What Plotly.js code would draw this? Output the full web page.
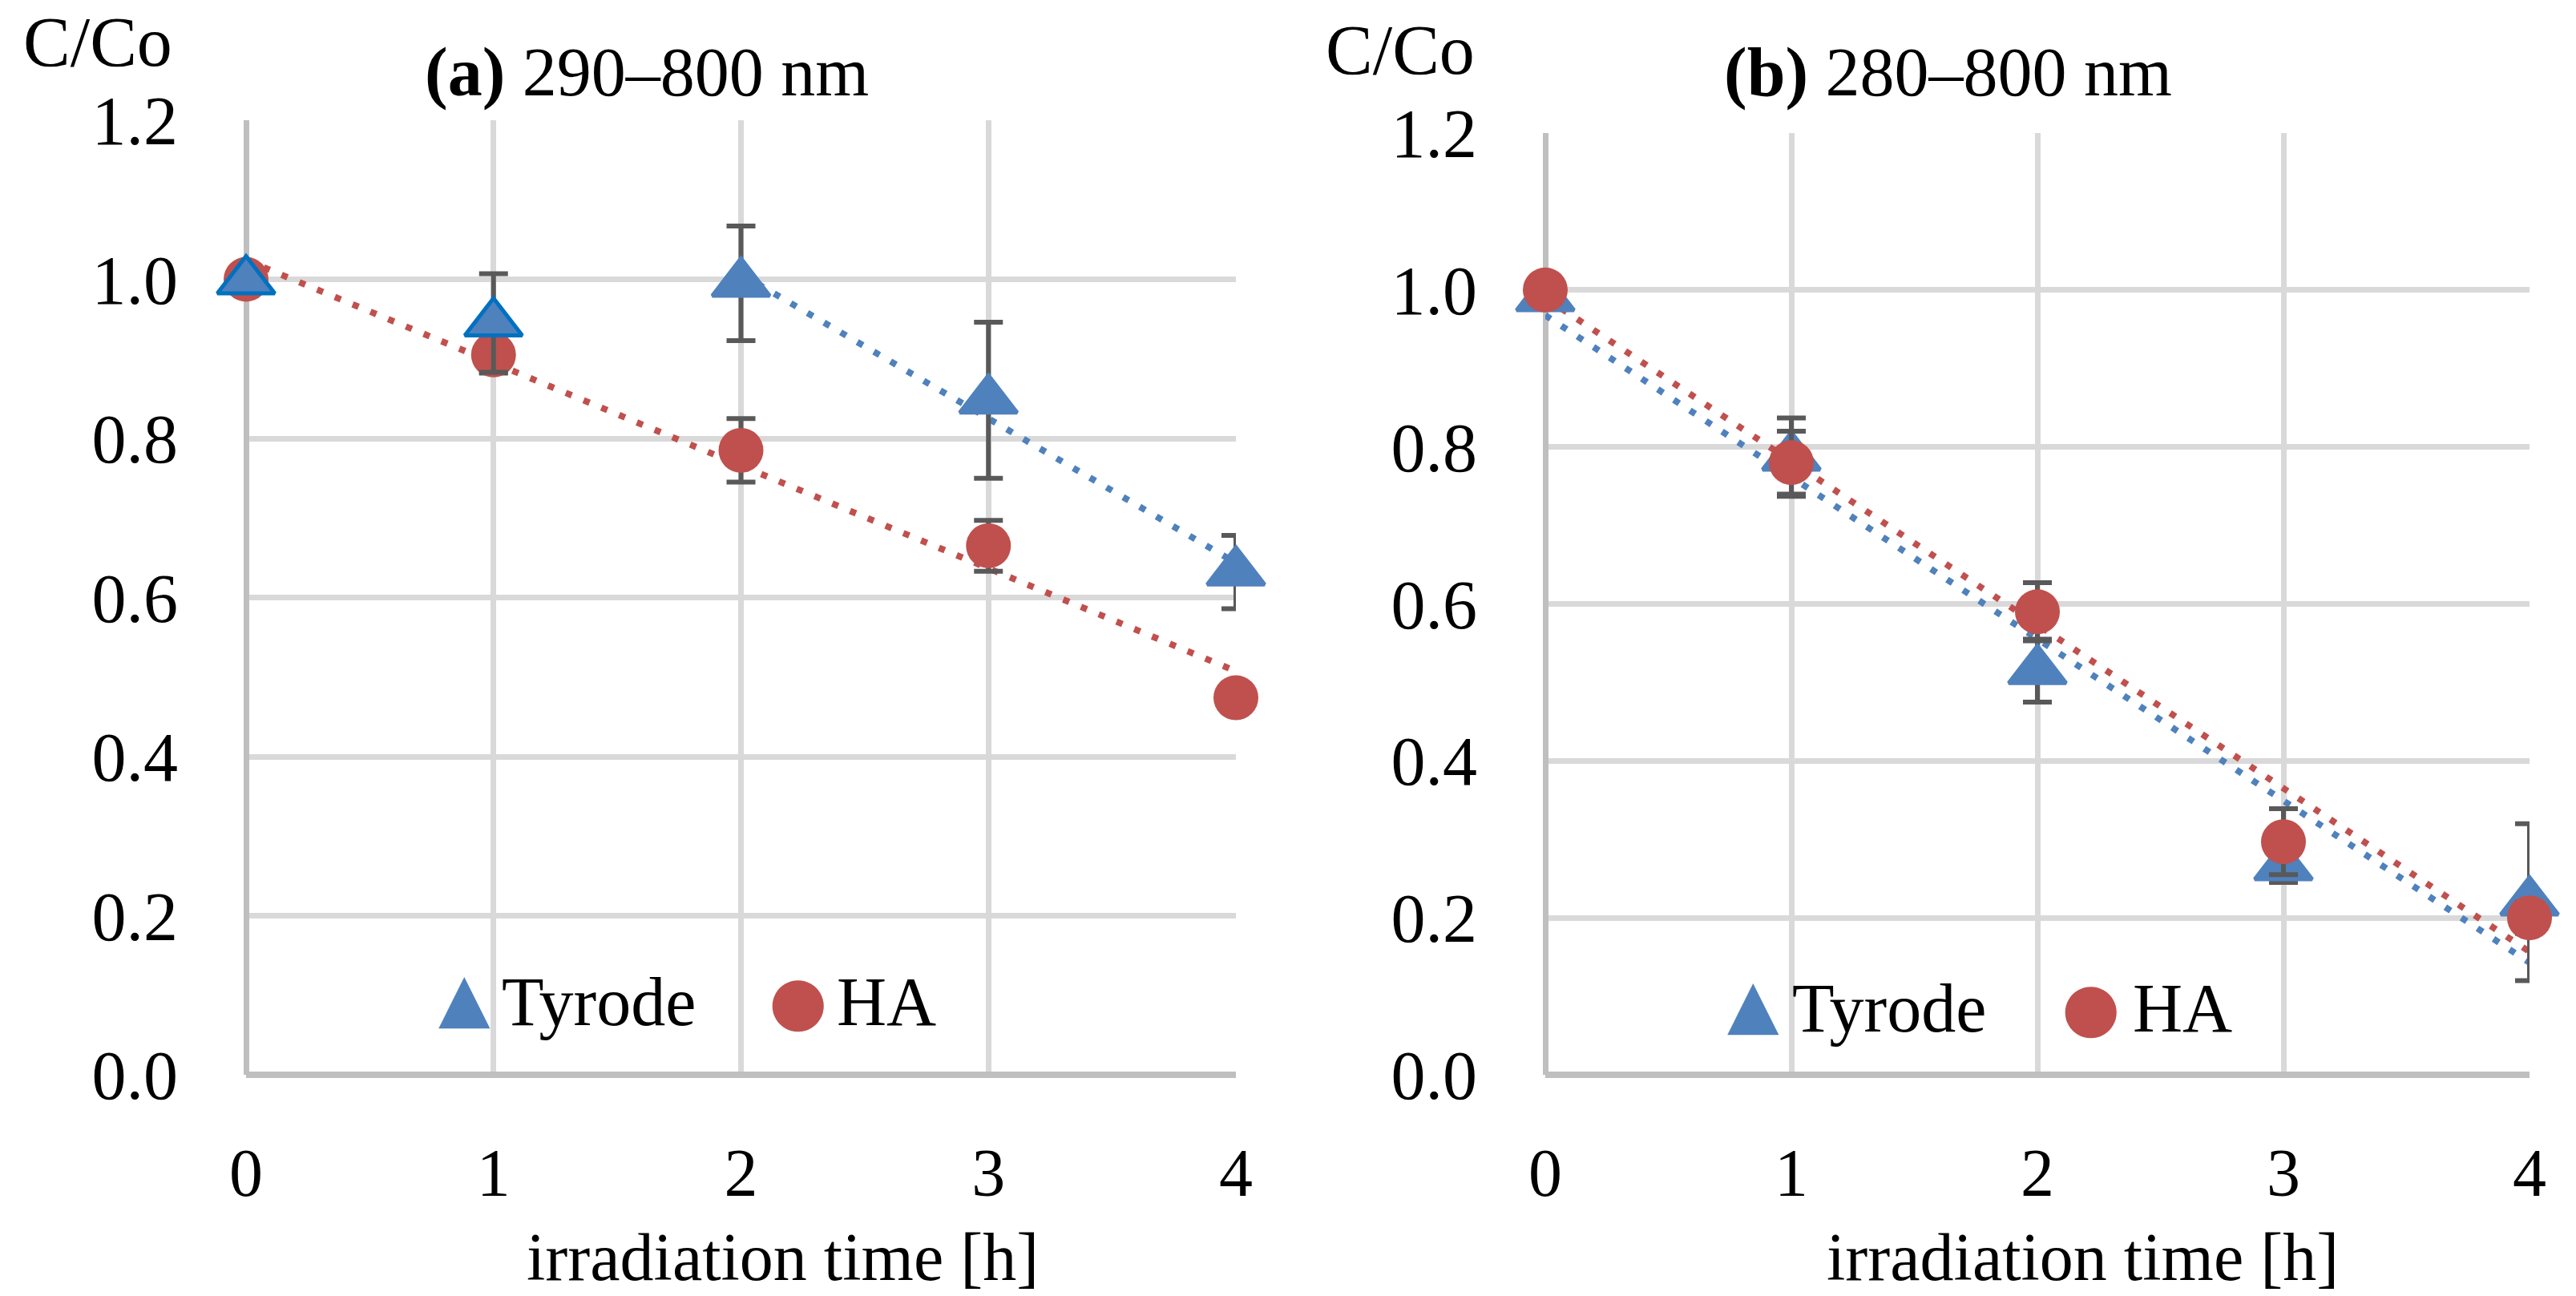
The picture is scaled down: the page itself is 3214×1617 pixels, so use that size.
<!DOCTYPE html>
<html>
<head>
<meta charset="utf-8">
<script src="https://cdn.plot.ly/plotly-3.0.1.min.js"></script>
<style>
  html, body { margin: 0; padding: 0; background: #ffffff; }
  #chart { width: 3214px; height: 1617px; }
</style>
</head>
<body>
<div id="chart"></div>
<script>
// ---------- data ----------
const hours = [0, 1, 2, 3, 4];
const xTickText = ['0', '1', '2', '3', '4'];
const yTickVals = [0, 0.2, 0.4, 0.6, 0.8, 1.0, 1.2];
const yTickText = ['0.0', '0.2', '0.4', '0.6', '0.8', '1.0', '1.2'];

const seriesNames = ['Tyrode', 'HA'];
const panelTitles = ['<b>(a)</b> 290–800 nm', '<b>(b)</b> 280–800 nm'];
const yLabel = 'C/Co';
const xLabel = 'irradiation time [h]';

// panel (a) 290–800 nm
const tyrodeA = [0.998, 0.945, 0.995, 0.848, 0.632];
const tyrodeAErr = [0, 0.062, 0.072, 0.098, 0.046];
const haA = [1.0, 0.905, 0.785, 0.665, 0.474];
const haAErr = [0, 0.023, 0.04, 0.032, 0.01];
const tyrodeATrendStart = 2;   // trendline fitted over hours 2–4 only
const haATrendStart = 0;

// panel (b) 280–800 nm
const tyrodeB = [0.99, 0.787, 0.515, 0.265, 0.22];
const tyrodeBErr = [0, 0.05, 0.04, 0.02, 0.1];
const haB = [1.0, 0.78, 0.59, 0.297, 0.2];
const haBErr = [0, 0.04, 0.037, 0.042, 0.02];
const tyrodeBTrendStart = 0;
const haBTrendStart = 0;

// ---------- styles ----------
const BLUE = '#4f81bd';
const BLUE_EDGE = '#0070c0';
const RED = '#c0504d';
const ERR = '#595959';
const GRID = '#d9d9d9';
const AXIS = '#bfbfbf';
const FONT = 'Liberation Serif, Times New Roman, serif';
const W = 3214, H = 1617;
const px = v => v / W;
const py = v => 1 - v / H;

// least-squares linear trendline (as the spreadsheet trendline)
function trend(xs, ys, start) {
  const X = xs.filter(x => x >= start);
  const Y = ys.filter((_, i) => xs[i] >= start);
  const n = X.length;
  const mx = X.reduce((a, b) => a + b, 0) / n;
  const my = Y.reduce((a, b) => a + b, 0) / n;
  let sxy = 0, sxx = 0;
  for (let i = 0; i < n; i++) { sxy += (X[i] - mx) * (Y[i] - my); sxx += (X[i] - mx) ** 2; }
  const b = sxy / sxx, a = my - b * mx;
  const ends = [X[0], X[n - 1]];
  return { x: ends, y: ends.map(x => a + b * x) };
}

function trendTrace(t, color, xa, ya) {
  return {
    type: 'scatter', mode: 'lines', x: t.x, y: t.y, xaxis: xa, yaxis: ya,
    line: { color: color, width: 8, dash: '8px,16px' },
    showlegend: false, hoverinfo: 'skip', cliponaxis: false
  };
}

function tyrodeTrace(y, err, xa, ya, edge) {
  return {
    type: 'scatter', mode: 'markers', name: seriesNames[0], x: hours, y: y,
    xaxis: xa, yaxis: ya, cliponaxis: false, showlegend: false,
    marker: { symbol: 'triangle-up', size: 62, color: BLUE,
              line: { color: edge, width: 5 } },
    error_y: { type: 'data', array: err, visible: true, color: ERR, thickness: 6, width: 18 }
  };
}

function haTrace(y, err, xa, ya) {
  return {
    type: 'scatter', mode: 'markers', name: seriesNames[1], x: hours, y: y,
    xaxis: xa, yaxis: ya, cliponaxis: false, showlegend: false,
    marker: { symbol: 'circle', size: 56, color: RED, line: { width: 0 } },
    error_y: { type: 'data', array: err, visible: true, color: ERR, thickness: 6, width: 18 }
  };
}

const edgesA = [BLUE_EDGE, BLUE_EDGE, BLUE, BLUE, BLUE];
const edgesB = [BLUE, BLUE, BLUE, BLUE, BLUE];

const data = [
  // panel (a): circles under triangles
  trendTrace(trend(hours, haA, haATrendStart), RED, 'x', 'y'),
  trendTrace(trend(hours, tyrodeA, tyrodeATrendStart), BLUE, 'x', 'y'),
  haTrace(haA, haAErr, 'x', 'y'),
  tyrodeTrace(tyrodeA, tyrodeAErr, 'x', 'y', edgesA),
  // panel (b): triangles under circles
  trendTrace(trend(hours, tyrodeB, tyrodeBTrendStart), BLUE, 'x2', 'y2'),
  trendTrace(trend(hours, haB, haBTrendStart), RED, 'x2', 'y2'),
  tyrodeTrace(tyrodeB, tyrodeBErr, 'x2', 'y2', edgesB),
  haTrace(haB, haBErr, 'x2', 'y2')
];

function xAxis(domain) {
  return {
    domain: domain, range: [0, 4], tickvals: hours, ticktext: xTickText,
    showgrid: true, gridcolor: GRID, gridwidth: 7,
    zeroline: true, zerolinecolor: AXIS, zerolinewidth: 7,
    showline: false, ticks: '', ticklabelstandoff: 66,
    tickfont: { family: FONT, size: 84, color: '#000000' }, fixedrange: true
  };
}
function yAxis(domain, anchor) {
  return {
    domain: domain, range: [0, 1.2], tickvals: yTickVals, ticktext: yTickText,
    anchor: anchor,
    showgrid: true, gridcolor: GRID, gridwidth: 7,
    zeroline: true, zerolinecolor: AXIS, zerolinewidth: 8,
    showline: false, ticks: '', ticklabelstandoff: 84,
    tickfont: { family: FONT, size: 86, color: '#000000' }, fixedrange: true
  };
}

const txt = (text, x, y, xanchor, size, extra) => Object.assign({
  text: text, xref: 'paper', yref: 'paper', x: px(x), y: py(y),
  xanchor: xanchor, yanchor: 'middle', showarrow: false,
  font: { family: FONT, size: size, color: '#000000' }
}, extra || {});

const glyph = (g, color, x, y, size) => ({
  text: g, xref: 'paper', yref: 'paper', x: px(x), y: py(y),
  xanchor: 'center', yanchor: 'middle', showarrow: false,
  font: { family: 'DejaVu Sans', size: size, color: color }
});

const annotations = [
  // panel (a)
  txt(yLabel, 217, 52, 'right', 88),
  txt(panelTitles[0], 807, 90, 'center', 86),
  txt(xLabel, 976, 1568, 'center', 84),
  glyph('▲', BLUE, 579, 1244, 84),
  txt(seriesNames[0], 624, 1250, 'left', 86),
  glyph('●', RED, 995, 1248, 84),
  txt(seriesNames[1], 1042, 1250, 'left', 86),
  // panel (b)
  txt(yLabel, 1842, 62, 'right', 88),
  txt(panelTitles[1], 2430, 90, 'center', 86),
  txt(xLabel, 2598, 1568, 'center', 84),
  glyph('▲', BLUE, 2187, 1252, 84),
  txt(seriesNames[0], 2234, 1258, 'left', 86),
  glyph('●', RED, 2608, 1256, 84),
  txt(seriesNames[1], 2659, 1258, 'left', 86)
];

const layout = {
  width: W, height: H,
  margin: { l: 0, r: 0, t: 0, b: 0, pad: 0 },
  paper_bgcolor: '#ffffff', plot_bgcolor: '#ffffff',
  showlegend: false,
  xaxis: xAxis([px(307), px(1542)]),
  yaxis: yAxis([py(1341), py(150)], 'x'),
  xaxis2: Object.assign(xAxis([px(1928), px(3156)]), { anchor: 'y2' }),
  yaxis2: yAxis([py(1341), py(166)], 'x2'),
  annotations: annotations
};

Plotly.newPlot('chart', data, layout, { staticPlot: true, displayModeBar: false });
</script>
</body>
</html>
